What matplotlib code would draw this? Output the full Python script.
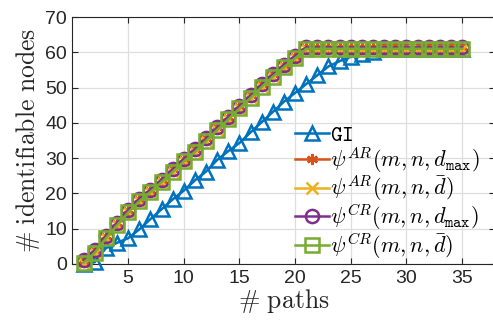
import matplotlib
matplotlib.use("Agg")
import matplotlib.pyplot as plt
import numpy as np

plt.rcParams['mathtext.fontset'] = 'cm'
plt.rcParams['font.family'] = ['Liberation Sans', 'DejaVu Sans']

paths = list(range(1, 36))

gi = [0, 0.5, 4.5, 6, 7.3, 9.8, 12.7, 15.5, 18.3, 20.8, 23.7, 26.2, 29.5, 32,
      34.3, 37.3, 40.2, 43.1, 46, 48.5, 51, 53.5, 56, 57.5, 58.7, 59.6, 60.2,
      61, 61, 61, 61, 61, 61, 61, 61]

psi_dbar = [0.4, 3.2, 7.3, 11, 14.6, 17.8, 20.4, 23.2, 26.1, 29.1, 31.8, 34.9,
            38, 41, 44.1, 47.1, 50.2, 53.1, 55.8, 58.3, 61, 61, 61, 61, 61, 61,
            61, 61, 61, 61, 61, 61, 61, 61, 61]

psi_dmax = [1.1, 3.9, 8.0, 11.7, 15.3, 18.5, 21.1, 23.9, 26.8, 29.8, 32.5, 35.6,
            38.7, 41.7, 44.8, 47.8, 50.9, 53.8, 56.5, 59.0, 61.4, 61.4, 61.4,
            61.4, 61.4, 61.4, 61.4, 61.4, 61.4, 61.4, 61.4, 61.4, 61.4, 61.4,
            61.4]

labels = [r'$\mathtt{GI}$',
          r'$\psi^{AR}(m,n,d_{\mathtt{max}})$',
          r'$\psi^{AR}(m,n,\bar{d})$',
          r'$\psi^{CR}(m,n,d_{\mathtt{max}})$',
          r'$\psi^{CR}(m,n,\bar{d})$']

colors = ['#0072BD', '#D95319', '#EDB120', '#7E2F8E', '#77AC30']
markers = ['^', (6, 2, 0), 'x', 'o', 's']
sizes = [10, 8, 8, 9.5, 9.5]
series = [gi, psi_dmax, psi_dbar, psi_dmax, psi_dbar]

fig = plt.figure(figsize=(4.93, 3.29), dpi=100)
ax = fig.add_axes([0.147, 0.1976, 0.858, 0.7507])

for ys, c, m, ms, lab in zip(series, colors, markers, sizes, labels):
    ax.plot(paths, ys, color=c, marker=m, markersize=ms, markeredgewidth=1.8,
            markerfacecolor='none', linewidth=1.8, label=lab, clip_on=False,
            zorder=3)

ax.set_xlim(0, 38)
ax.set_ylim(0, 70)
ax.set_xticks([5, 10, 15, 20, 25, 30, 35])
ax.set_yticks(range(0, 71, 10))
ax.grid(True, color='#dedede', linewidth=0.9)
ax.set_axisbelow(True)
ax.tick_params(direction='in', length=4, width=0.8, colors='#262626',
               labelsize=14, top=True, right=True, pad=4)
for s in ax.spines.values():
    s.set_color('#262626')
    s.set_linewidth(0.8)

ax.set_xlabel(r'$\#\ \mathrm{paths}$', fontsize=18.5, color='#262626', labelpad=0)
ax.set_ylabel(r'$\#\ \mathrm{identifiable\ nodes}$', fontsize=18.5,
              color='#262626', labelpad=2)

leg = ax.legend(loc='lower right', bbox_to_anchor=(0.995, -0.04), frameon=False,
                fontsize=16, handlelength=1.55, handletextpad=0.05,
                labelspacing=-0.05, borderaxespad=0.2)

fig.savefig('out.png', dpi=100)
